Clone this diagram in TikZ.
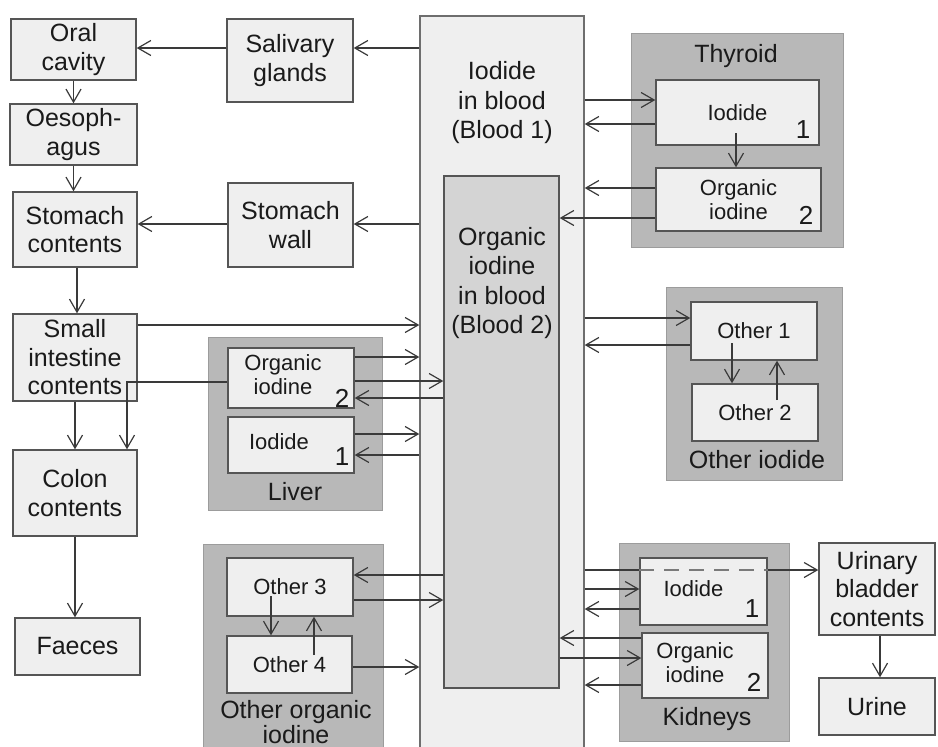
\documentclass[tikz,border=0pt]{standalone}
\usepackage{fontspec}
\setmainfont{Liberation Sans}
\usetikzlibrary{arrows.meta}
\definecolor{boxfill}{HTML}{EFEFEF}
\definecolor{boxline}{HTML}{555555}
\definecolor{grpfill}{HTML}{B8B8B8}
\definecolor{grpline}{HTML}{9C9C9C}
\definecolor{bfill}{HTML}{D4D4D4}
\definecolor{arrowc}{HTML}{3A3A3A}
\definecolor{txt}{HTML}{1A1A1A}
\definecolor{dashc}{HTML}{7A7A7A}
\newcommand{\lefttxt}[2]{\begin{tabular}{@{}c@{\hspace{#1pt}}}#2\end{tabular}}
\begin{document}
\begin{tikzpicture}[x=1pt,y=-1pt,
  sz/.style 2 args={minimum width=#1pt, minimum height=#2pt},
  box/.style={draw=boxline, fill=boxfill, line width=1.4pt, inner sep=0pt, align=center, text=txt, font=\fontsize{25}{28.5}\selectfont},
  ibox/.style={box, font=\fontsize{22}{24}\selectfont},
  grp/.style={draw=grpline, fill=grpfill, line width=1pt, inner sep=0pt},
  glab/.style={text=txt, font=\fontsize{25}{25}\selectfont, align=center, inner sep=0pt},
  btxt/.style={text=txt, font=\fontsize{25}{29.5}\selectfont, align=center, inner sep=0pt},
  num/.style={text=txt, font=\fontsize{26}{26}\selectfont, inner sep=0pt},
  arr/.style={draw=arrowc, line width=1.2pt, -{Straight Barb[length=13pt,width=15pt,line width=1.2pt]}},
  ln/.style={draw=arrowc, line width=1.2pt},
  dln/.style={draw=dashc, line width=1.4pt, dash pattern=on 15pt off 10pt}]
\useasboundingbox (0,0) rectangle (938,747);
\fill[white] (0,0) rectangle (938,747);
\clip (0,0) rectangle (938,747);

% left column
\node[box, sz={125}{61}] (oral) at (73.5,49.5) {Oral\\cavity};
\node[box, sz={127}{61}] (oeso) at (73.5,134.5) {Oesoph-\\agus};
\node[box, sz={124}{75}] (stomc) at (75,229.5) {Stomach\\contents};
\node[box, sz={126}{83}] (saliv) at (290,60.5) {Salivary\\glands};
\node[box, sz={125}{84}] (stomw) at (290.5,225) {Stomach\\wall};
\node[box, sz={124}{87}] (small) at (75,357.5) {Small\\intestine\\contents};
\node[box, sz={124}{86}] (colon) at (75,493) {Colon\\contents};
\node[box, sz={125}{57}] (faeces) at (77.5,646.5) {Faeces};

% blood
\node[box, draw=boxline!85, sz={164}{744}] (blood1) at (502,388) {};
\node[btxt] (b1txt) at (502,103) {Iodide\\in blood\\(Blood 1)};
\node[box, fill=bfill, sz={115}{512}] (blood2) at (501.5,432) {};
\node[btxt] (b2txt) at (502,283) {Organic\\iodine\\in blood\\(Blood 2)};

% thyroid
\node[grp, sz={212}{214}] (thyg) at (737,140) {};
\node[glab] (thylab) at (736,56) {Thyroid};
\node[ibox, sz={163}{65}] (thyI) at (737.5,112.5) {Iodide};
\node[ibox, sz={165}{63}] (thyO) at (738.5,199.5) {Organic\\iodine};
\node[num] (thyn1) at (803,130) {1};
\node[num] (thyn2) at (806,215) {2};

% other iodide
\node[grp, sz={176}{193}] (oig) at (754,383.5) {};
\node[ibox, sz={126}{58}] (oth1) at (754,331) {Other 1};
\node[ibox, sz={126}{57}] (oth2) at (755,412.5) {Other 2};
\node[glab] (oilab) at (757,460) {Other iodide};

% liver
\node[grp, sz={174}{173}] (livg) at (295,423.5) {};
\node[ibox, sz={126}{60}] (livO) at (291,378) {\lefttxt{16}{Organic\\iodine}};
\node[ibox, sz={126}{56}] (livI) at (291,445) {\lefttxt{24}{Iodide}};
\node[num] (livn2) at (342,398) {2};
\node[num] (livn1) at (342,457) {1};
\node[glab] (livlab) at (295,492) {Liver};

% kidneys
\node[grp, sz={170}{198}] (kidg) at (704,642) {};
\node[ibox, sz={127}{67}] (kidI) at (703.5,591.5) {\lefttxt{20}{Iodide}};
\node[ibox, sz={126}{65}] (kidO) at (705,665.5) {\lefttxt{20}{Organic\\iodine}};
\node[num] (kidn1) at (752,609) {1};
\node[num] (kidn2) at (754,682) {2};
\node[glab] (kidlab) at (707,719) {Kidneys};
\node[box, sz={116}{92}] (urin) at (877,589) {Urinary\\bladder\\contents};
\node[box, sz={116}{57}] (urine) at (877,706.5) {Urine};

% other organic iodine
\node[grp, sz={180}{216}] (oog) at (293,652) {};
\node[ibox, sz={126}{58}] (oth3) at (290,587) {Other 3};
\node[ibox, sz={125}{57}] (oth4) at (289.5,664.5) {Other 4};
\node[glab, font=\fontsize{25}{21}\selectfont] (oolab) at (296,722) {Other organic\\iodine};

% internal start points
\coordinate (thyIin) at (736,133);
\coordinate (oth1in) at (732,343);
\coordinate (oth2in) at (777,400);
\coordinate (oth3in) at (271,596);
\coordinate (oth4in) at (314,655);

% GI tract
\draw[arr] (blood1.west |- 0,48) -- (saliv.east |- 0,48);
\draw[arr] (saliv.west |- 0,48) -- (oral.east |- 0,48);
\draw[arr] (oral.south) -- (oeso.north);
\draw[arr] (oeso.south) -- (oeso.south |- stomc.north);
\draw[arr] (blood1.west |- 0,224) -- (stomw.east |- 0,224);
\draw[arr] (stomw.west |- 0,224) -- (stomc.east |- 0,224);
\draw[arr] (stomc.south -| 77,0) -- (small.north -| 77,0);
\draw[arr] (small.east |- 0,325) -- (blood1.west |- 0,325);
\draw[arr] (small.south) -- (colon.north);
\draw[arr] (livO.west |- 0,382) -| (colon.north -| 127,0);
\draw[arr] (colon.south) -- (colon.south |- faeces.north);

% liver
\draw[arr] (livO.east |- 0,357) -- (blood1.west |- 0,357);
\draw[arr] (livO.east |- 0,381) -- (blood2.west |- 0,381);
\draw[arr] (blood2.west |- 0,398) -- (livO.east |- 0,398);
\draw[arr] (livI.east |- 0,434) -- (blood1.west |- 0,434);
\draw[arr] (blood1.west |- 0,455) -- (livI.east |- 0,455);

% thyroid
\draw[arr] (blood1.east |- 0,100) -- (thyI.west |- 0,100);
\draw[arr] (thyI.west |- 0,124) -- (blood1.east |- 0,124);
\draw[arr] (thyIin) -- (thyO.north -| thyIin);
\draw[arr] (thyO.west |- 0,188) -- (blood1.east |- 0,188);
\draw[arr] (thyO.west |- 0,218) -- (blood2.east |- 0,218);

% other iodide
\draw[arr] (blood1.east |- 0,318) -- (oth1.west |- 0,318);
\draw[arr] (oth1.west |- 0,345) -- (blood1.east |- 0,345);
\draw[arr] (oth1in) -- (oth2.north -| oth1in);
\draw[arr] (oth2in) -- (oth1.south -| oth2in);

% kidneys
\draw[ln] (blood1.east |- 0,570) -- (kidI.west |- 0,570);
\draw[dln] (kidI.west |- 0,570) -- (kidI.east |- 0,570);
\draw[arr] (kidI.east |- 0,570) -- (urin.west |- 0,570);
\draw[arr] (blood1.east |- 0,589) -- (kidI.west |- 0,589);
\draw[arr] (kidI.west |- 0,609) -- (blood1.east |- 0,609);
\draw[arr] (kidO.west |- 0,638) -- (blood2.east |- 0,638);
\draw[arr] (blood2.east |- 0,658) -- (kidO.west |- 0,658);
\draw[arr] (kidO.west |- 0,685) -- (blood1.east |- 0,685);
\draw[arr] (urin.south -| 880,0) -- (urine.north -| 880,0);

% other organic iodine
\draw[arr] (blood2.west |- 0,575) -- (oth3.east |- 0,575);
\draw[arr] (oth3.east |- 0,600) -- (blood2.west |- 0,600);
\draw[arr] (oth4.east |- 0,667) -- (blood1.west |- 0,667);
\draw[arr] (oth3in) -- (oth4.north -| oth3in);
\draw[arr] (oth4in) -- (oth3.south -| oth4in);
\end{tikzpicture}
\end{document}
